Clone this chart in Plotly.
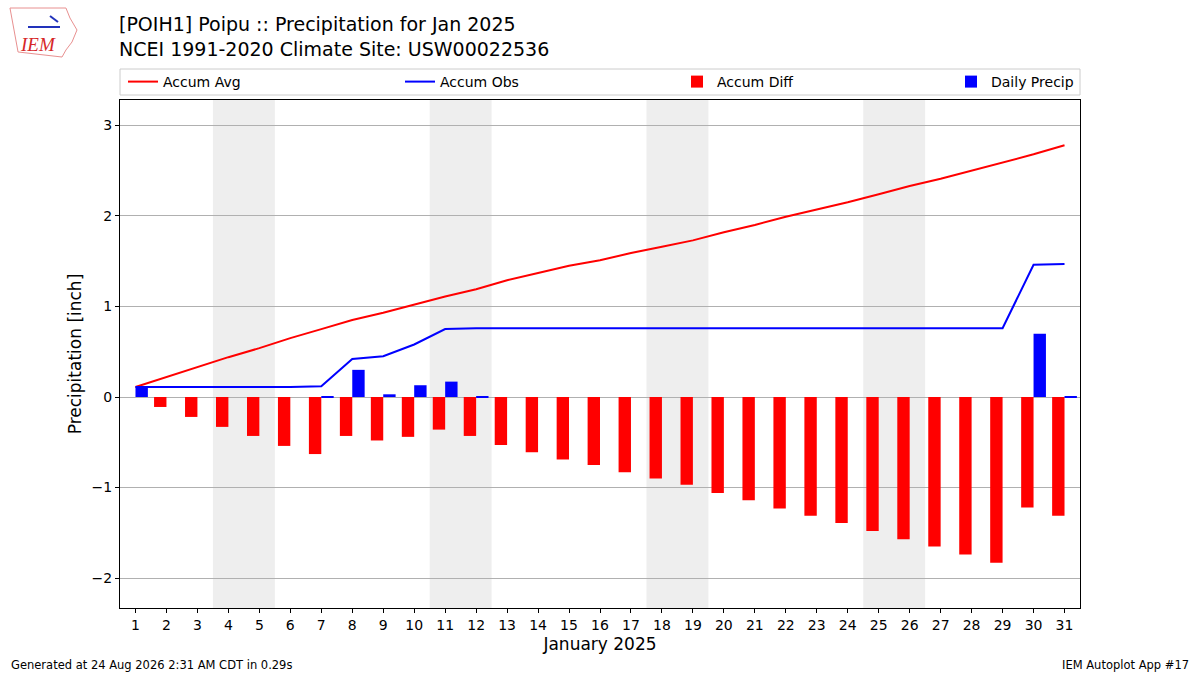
import plotly.graph_objects as go

days = list(range(1, 32))
daily_precip = [0.11, 0, 0, 0, 0, 0, 0.01, 0.30, 0.03, 0.13, 0.17, 0.01,
                0, 0, 0, 0, 0, 0, 0, 0, 0, 0, 0, 0, 0, 0, 0, 0, 0, 0.70, 0.01]
accum_obs = [0.11, 0.11, 0.11, 0.11, 0.11, 0.11, 0.12, 0.42, 0.45, 0.58, 0.75, 0.76,
             0.76, 0.76, 0.76, 0.76, 0.76, 0.76, 0.76, 0.76, 0.76, 0.76, 0.76, 0.76,
             0.76, 0.76, 0.76, 0.76, 0.76, 1.46, 1.47]
accum_avg = [0.11, 0.22, 0.33, 0.44, 0.54, 0.65, 0.75, 0.85, 0.93, 1.02, 1.11, 1.19,
             1.29, 1.37, 1.45, 1.51, 1.59, 1.66, 1.73, 1.82, 1.90, 1.99, 2.07, 2.15,
             2.24, 2.33, 2.41, 2.50, 2.59, 2.68, 2.78]
accum_diff = [0.00, -0.11, -0.22, -0.33, -0.43, -0.54, -0.63, -0.43, -0.48, -0.44, -0.36, -0.43,
              -0.53, -0.61, -0.69, -0.75, -0.83, -0.90, -0.97, -1.06, -1.14, -1.23, -1.31, -1.39,
              -1.48, -1.57, -1.65, -1.74, -1.83, -1.22, -1.31]
weekends = [(4, 5), (11, 12), (18, 19), (25, 26)]

FONT = "DejaVu Sans"

# layout geometry (pixels)
W, H = 1200, 675
L, R, T, B = 120, 120, 100, 67
PW, PH = W - L - R, H - T - B


def px(x):
    return (x - L) / PW


def py(y):
    return (H - B - y) / PH


fig = go.Figure()
fig.add_trace(go.Scatter(x=days, y=accum_avg, mode="lines", name="Accum Avg",
                         line=dict(color="red", width=2), legend="legend"))
fig.add_trace(go.Scatter(x=days, y=accum_obs, mode="lines", name="Accum Obs",
                         line=dict(color="blue", width=2), legend="legend2"))
fig.add_trace(go.Bar(x=days, y=accum_diff, name="Accum Diff", marker_color="red",
                     marker_line_width=0, width=0.4, offset=-0.4, legend="legend3"))
fig.add_trace(go.Bar(x=days, y=daily_precip, name="Daily Precip", marker_color="blue",
                     marker_line_width=0, width=0.4, offset=0, legend="legend4"))

for a, b in weekends:
    fig.add_shape(type="rect", xref="x", yref="paper", x0=a - 0.5, x1=b + 0.5,
                  y0=0, y1=1, fillcolor="#eeeeee", line_width=0, layer="below")

# legend frame
fig.add_shape(type="rect", xref="paper", yref="paper", x0=px(120), x1=px(1080),
              y0=py(95), y1=py(69), line=dict(color="#cccccc", width=1),
              fillcolor="rgba(0,0,0,0)", layer="above")


def leg(xpix):
    return dict(x=px(xpix), y=py(82), xanchor="left", yanchor="middle",
                orientation="h", bgcolor="rgba(0,0,0,0)", borderwidth=0,
                font=dict(size=14, family=FONT))


fig.update_layout(
    width=W, height=H,
    margin=dict(l=L, r=R, t=T, b=B, autoexpand=False),
    paper_bgcolor="white", plot_bgcolor="white",
    font=dict(family=FONT, size=14, color="black"),
    barmode="overlay",
    showlegend=True,
    legend=leg(123),
    legend2=leg(400),
    legend3=leg(677),
    legend4=leg(951),
    xaxis=dict(range=[0.5, 31.5], tickmode="array", tickvals=days,
               ticktext=[str(d) for d in days], showgrid=False,
               showline=True, linecolor="black", linewidth=1, mirror=True,
               ticks="outside", ticklen=4, tickcolor="black",
               tickfont=dict(size=14),
               title=dict(text="January 2025", font=dict(size=17), standoff=6),
               zeroline=False),
    yaxis=dict(range=[-2.33, 3.28], tickvals=[-2, -1, 0, 1, 2, 3],
               showgrid=True, gridcolor="#b0b0b0", gridwidth=1,
               showline=True, linecolor="black", linewidth=1, mirror=True,
               ticks="outside", ticklen=4, tickcolor="black",
               tickfont=dict(size=14),
               title=dict(text="Precipitation [inch]", font=dict(size=17), standoff=5),
               zeroline=False),
)

fig.add_annotation(text="[POIH1] Poipu :: Precipitation for Jan 2025<br>NCEI 1991-2020 Climate Site: USW00022536",
                   xref="paper", yref="paper", x=px(117), y=py(11), xanchor="left", yanchor="top",
                   showarrow=False, align="left", font=dict(size=19, family=FONT))
fig.add_annotation(text="Generated at 24 Aug 2026 2:31 AM CDT in 0.29s",
                   xref="paper", yref="paper", x=px(9), y=py(665),
                   xanchor="left", yanchor="middle", showarrow=False, font=dict(size=11.5))
fig.add_annotation(text="IEM Autoplot App #17",
                   xref="paper", yref="paper", x=px(1191), y=py(665),
                   xanchor="right", yanchor="middle", showarrow=False, font=dict(size=11.5))

# logo approximation
pts = [(10, 8), (66, 8), (70, 18), (77, 30), (72, 42), (66, 50), (62, 57), (18, 52), (14, 30)]
path = "M " + " L ".join(f"{px(a):.4f},{py(b):.4f}" for a, b in pts) + " Z"
fig.add_shape(type="path", xref="paper", yref="paper", path=path,
              line=dict(color="#e89090", width=1), fillcolor="rgba(0,0,0,0)", layer="above")
fig.add_shape(type="line", xref="paper", yref="paper", x0=px(28), x1=px(60), y0=py(27), y1=py(27),
              line=dict(color="#2233bb", width=2), layer="above")
fig.add_shape(type="line", xref="paper", yref="paper", x0=px(50), x1=px(58), y0=py(16), y1=py(22),
              line=dict(color="#2233bb", width=2), layer="above")
fig.add_annotation(text="<i>IEM</i>", xref="paper", yref="paper", x=px(38), y=py(45),
                   xanchor="center", yanchor="middle", showarrow=False,
                   font=dict(size=19, family="Liberation Serif", color="#d62728"))

fig.write_html("out.html", config={"displayModeBar": False},
               post_script="document.body.style.margin='0';document.body.style.overflow='hidden';")
